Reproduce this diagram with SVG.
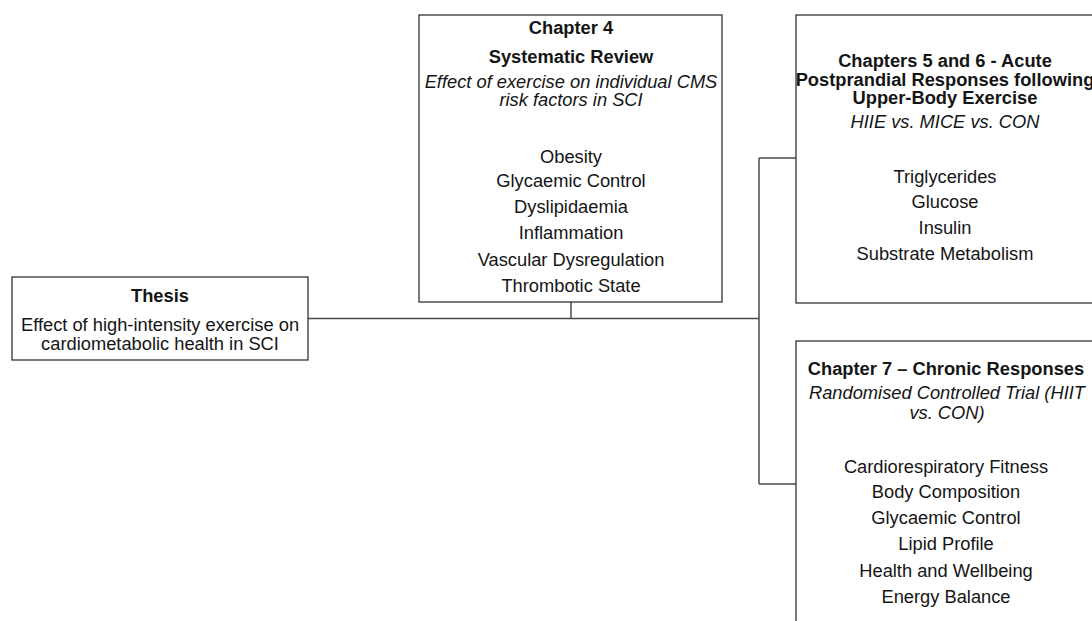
<svg xmlns="http://www.w3.org/2000/svg" width="1092" height="621" viewBox="0 0 1092 621">
<style>
.box{fill:#fff;stroke:#333;stroke-width:1.3}
.conn{fill:none;stroke:#4a4a4a;stroke-width:1.5}
text{font-family:"Liberation Sans",Arial,sans-serif;font-size:18.3px;fill:#151515;text-anchor:middle}
.b{font-weight:bold}
.i{font-style:italic}
</style>
<rect width="1092" height="621" fill="#fff"/>
<g id="connectors">
<path class="conn" d="M308,318.5 H759"/>
<path class="conn" d="M571,302 V318.5"/>
<path class="conn" d="M759,158 V484"/>
<path class="conn" d="M759,158 H796"/>
<path class="conn" d="M759,484 H796"/>
</g>
<g id="thesis">
<rect class="box" x="12" y="277" width="296" height="83"/>
<text class="b" x="160" y="302">Thesis</text>
<text x="160" y="331">Effect of high-intensity exercise on</text>
<text x="160" y="350">cardiometabolic health in SCI</text>
</g>
<g id="chapter4">
<rect class="box" x="419" y="15" width="303" height="287"/>
<text class="b" x="571" y="34">Chapter 4</text>
<text class="b" x="571" y="63">Systematic Review</text>
<text class="i" x="571" y="88">Effect of exercise on individual CMS</text>
<text class="i" x="571" y="106">risk factors in SCI</text>
<text x="571" y="163">Obesity</text>
<text x="571" y="187">Glycaemic Control</text>
<text x="571" y="213">Dyslipidaemia</text>
<text x="571" y="239">Inflammation</text>
<text x="571" y="266">Vascular Dysregulation</text>
<text x="571" y="292">Thrombotic State</text>
</g>
<g id="chapters56">
<rect class="box" x="796" y="15" width="310" height="288"/>
<text class="b" x="945" y="67">Chapters 5 and 6 - Acute</text>
<text class="b" x="945" y="86">Postprandial Responses following</text>
<text class="b" x="945" y="104">Upper-Body Exercise</text>
<text class="i" x="945" y="128">HIIE vs. MICE vs. CON</text>
<text x="945" y="183">Triglycerides</text>
<text x="945" y="208">Glucose</text>
<text x="945" y="234">Insulin</text>
<text x="945" y="260">Substrate Metabolism</text>
</g>
<g id="chapter7">
<rect class="box" x="796" y="341" width="310" height="300"/>
<text class="b" x="946" y="375">Chapter 7 – Chronic Responses</text>
<text class="i" x="947" y="399">Randomised Controlled Trial (HIIT</text>
<text class="i" x="947" y="419">vs. CON)</text>
<text x="946" y="473">Cardiorespiratory Fitness</text>
<text x="946" y="498">Body Composition</text>
<text x="946" y="524">Glycaemic Control</text>
<text x="946" y="550">Lipid Profile</text>
<text x="946" y="577">Health and Wellbeing</text>
<text x="946" y="603">Energy Balance</text>
</g>
</svg>
